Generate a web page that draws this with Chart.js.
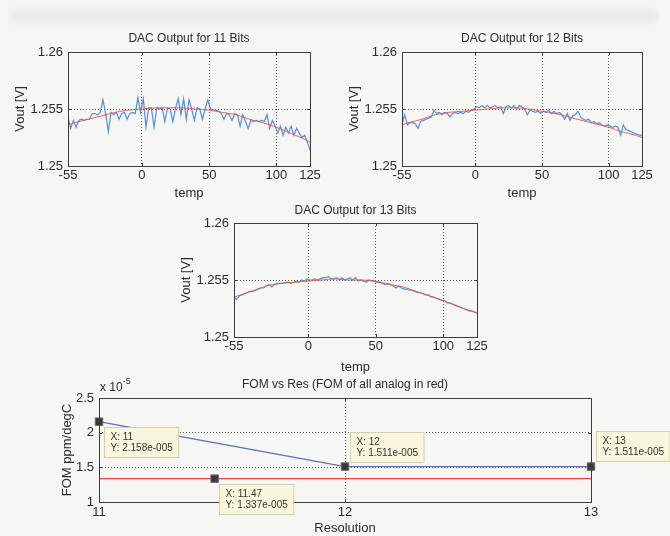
<!DOCTYPE html>
<html>
<head>
<meta charset="utf-8">
<title>DAC output vs temperature</title>
<script src="https://cdn.jsdelivr.net/npm/chart.js@4.4.1/dist/chart.umd.min.js"></script>
<style>
  html, body { margin: 0; padding: 0; }
  body {
    width: 670px; height: 536px; position: relative; overflow: hidden;
    background: #f6f6f4;
  }
  canvas { position: absolute; }
  /* faint show-through from the back of the scanned page */
  .bleed {
    position: absolute; left: 12px; top: 9px; width: 646px; height: 14px;
    background: rgba(0, 0, 0, 0.05); filter: blur(3px);
  }
</style>
</head>
<body>
<div class="bleed"></div>
<canvas id="dac11"></canvas>
<canvas id="dac12"></canvas>
<canvas id="dac13"></canvas>
<canvas id="fomChart"></canvas>

<script>
// ---- data ----
// temperature sweep, -55 .. 125 degC in 2 degree steps
const temps = Array.from({ length: 91 }, (_, i) => -55 + 2 * i);

// polynomial fit of the analog reference (red curves)
const fitTemps = [-55, -50, -40, -30, -20, -10, 0, 10, 20, 30, 40, 50, 60, 70, 80, 90, 100, 110, 120, 125];
const fit11 = [1.2536, 1.2538, 1.2541, 1.2544, 1.2547, 1.2549, 1.2550, 1.2551, 1.2551, 1.2551,
               1.2550, 1.2549, 1.2547, 1.2545, 1.2541, 1.2538, 1.2534, 1.2529, 1.2524, 1.2521];
const fit12 = [1.2536, 1.2538, 1.2541, 1.2545, 1.2547, 1.2548, 1.2549, 1.2550, 1.2551, 1.2551,
               1.2550, 1.2548, 1.2546, 1.2543, 1.2540, 1.2537, 1.2534, 1.2530, 1.2527, 1.2525];
const fit13 = [1.2535, 1.2537, 1.2541, 1.2545, 1.2547, 1.2548, 1.2549, 1.2550, 1.2551, 1.2550,
               1.2550, 1.2549, 1.2546, 1.2544, 1.2540, 1.2536, 1.2532, 1.2527, 1.2523, 1.2521];

// quantized DAC outputs (blue)
const vout11 = [
  1.2543, 1.2533, 1.2540, 1.2534, 1.2540, 1.2541, 1.2540, 1.2541, 1.2541, 1.2546,
  1.2546, 1.2545, 1.2547, 1.2558, 1.2546, 1.2530, 1.2547, 1.2545, 1.2547, 1.2541,
  1.2546, 1.2547, 1.2541, 1.2546, 1.2547, 1.2546, 1.2560, 1.2547, 1.2559, 1.2534,
  1.2551, 1.2551, 1.2534, 1.2551, 1.2550, 1.2551, 1.2539, 1.2551, 1.2550, 1.2539,
  1.2551, 1.2559, 1.2545, 1.2559, 1.2541, 1.2558, 1.2550, 1.2540, 1.2551, 1.2550,
  1.2541, 1.2550, 1.2558, 1.2550, 1.2549, 1.2549, 1.2548, 1.2546, 1.2541, 1.2546,
  1.2545, 1.2540, 1.2546, 1.2545, 1.2535, 1.2545, 1.2539, 1.2533, 1.2540, 1.2539,
  1.2540, 1.2539, 1.2540, 1.2539, 1.2545, 1.2533, 1.2540, 1.2535, 1.2529, 1.2535,
  1.2527, 1.2534, 1.2529, 1.2535, 1.2527, 1.2533, 1.2529, 1.2525, 1.2527, 1.2521,
  1.2514
];
const vout12 = [
  1.2536, 1.2545, 1.2536, 1.2538, 1.2538, 1.2537, 1.2533, 1.2539, 1.2540, 1.2541,
  1.2542, 1.2543, 1.2549, 1.2546, 1.2547, 1.2545, 1.2547, 1.2546, 1.2543, 1.2546,
  1.2547, 1.2546, 1.2547, 1.2546, 1.2548, 1.2547, 1.2549, 1.2550, 1.2552, 1.2551,
  1.2553, 1.2551, 1.2553, 1.2551, 1.2552, 1.2553, 1.2551, 1.2552, 1.2546, 1.2552,
  1.2553, 1.2551, 1.2553, 1.2550, 1.2553, 1.2552, 1.2550, 1.2545, 1.2549, 1.2548,
  1.2547, 1.2548, 1.2546, 1.2548, 1.2547, 1.2549, 1.2546, 1.2548, 1.2546, 1.2547,
  1.2545, 1.2541, 1.2546, 1.2540, 1.2544, 1.2545, 1.2548, 1.2543, 1.2541, 1.2540,
  1.2541, 1.2538, 1.2539, 1.2537, 1.2538, 1.2536, 1.2535, 1.2536, 1.2535, 1.2534,
  1.2535, 1.2534, 1.2527, 1.2536, 1.2532, 1.2531, 1.2530, 1.2529, 1.2528, 1.2527,
  1.2527
];
const vout13 = [
  1.2535, 1.2533, 1.2536, 1.2537, 1.2538, 1.2539, 1.2540, 1.2540, 1.2541, 1.2542,
  1.2543, 1.2543, 1.2545, 1.2546, 1.2544, 1.2546, 1.2547, 1.2547, 1.2547, 1.2548,
  1.2548, 1.2547, 1.2548, 1.2549, 1.2548, 1.2550, 1.2549, 1.2551, 1.2550, 1.2550,
  1.2551, 1.2550, 1.2551, 1.2552, 1.2552, 1.2553, 1.2551, 1.2551, 1.2552, 1.2550,
  1.2552, 1.2550, 1.2551, 1.2552, 1.2550, 1.2552, 1.2549, 1.2550, 1.2549, 1.2548,
  1.2550, 1.2549, 1.2549, 1.2548, 1.2548, 1.2547, 1.2546, 1.2547, 1.2546, 1.2545,
  1.2543, 1.2545, 1.2543, 1.2542, 1.2542, 1.2541, 1.2541, 1.2540, 1.2539, 1.2539,
  1.2538, 1.2537, 1.2537, 1.2535, 1.2535, 1.2534, 1.2533, 1.2532, 1.2532, 1.2530,
  1.2530, 1.2529, 1.2528, 1.2527, 1.2526, 1.2525, 1.2524, 1.2523, 1.2523, 1.2522,
  1.2521
];

const tempTicks = [-55, 0, 50, 100, 125];
const voutTicks = [1.25, 1.255, 1.26];
const voutTickLabels = ['1.25', '1.255', '1.26'];

// FOM vs resolution
const resolutions = [11, 12, 13];
const fomDigital = [2.158e-5, 1.511e-5, 1.511e-5];
const analogRes = [11, 13];
const fomAnalog = [1.337e-5, 1.337e-5];
const tipX = [11, 11.47, 12, 13];
const tipY = [2.158e-5, 1.337e-5, 1.511e-5, 1.511e-5];
const resTicks = [11, 12, 13];
const fomTicks = [1e-5, 1.5e-5, 2e-5, 2.5e-5];
const fomTickLabels = ['1', '1.5', '2', '2.5'];

// ---- styling helpers ----
const FONT = "'Liberation Sans', Arial, sans-serif";
const INK = '#2b2b2b';

function fixedTicks(values) {
  return function (scale) { scale.ticks = values.map(v => ({ value: v })); };
}

function points(xs, ys) {
  return xs.map((x, i) => ({ x: x, y: ys[i] }));
}

// MATLAB prints exponents with three digits, e.g. 2.158e-005
function matlabExp(v) {
  return v.toExponential(3).replace(/e([+-])(\d+)$/, (m, s, d) => 'e' + s + d.padStart(3, '0'));
}

// box, inward ticks, title and axis labels
function decorations(spec) {
  return {
    id: 'decorations',
    afterDatasetsDraw(chart) {
      const ctx = chart.ctx, a = chart.chartArea;
      const xs = chart.scales.x, ys = chart.scales.y;
      ctx.save();
      ctx.strokeStyle = '#3c3c3c';
      ctx.lineWidth = 1;
      ctx.strokeRect(Math.round(a.left) + 0.5, Math.round(a.top) + 0.5,
                     Math.round(a.right - a.left), Math.round(a.bottom - a.top));
      ctx.beginPath();
      xs.ticks.forEach(t => {
        const px = Math.round(xs.getPixelForValue(t.value)) + 0.5;
        ctx.moveTo(px, a.bottom); ctx.lineTo(px, a.bottom - 3);
        ctx.moveTo(px, a.top); ctx.lineTo(px, a.top + 3);
      });
      ys.ticks.forEach(t => {
        const py = Math.round(ys.getPixelForValue(t.value)) + 0.5;
        ctx.moveTo(a.left, py); ctx.lineTo(a.left + 3, py);
        ctx.moveTo(a.right, py); ctx.lineTo(a.right - 3, py);
      });
      ctx.stroke();

      const cx = (a.left + a.right) / 2, cy = (a.top + a.bottom) / 2;
      ctx.fillStyle = INK;
      ctx.textAlign = 'center';
      ctx.textBaseline = 'middle';
      ctx.font = '12px ' + FONT;
      ctx.fillText(spec.title, cx, a.top - spec.titleGap);
      ctx.font = '13px ' + FONT;
      ctx.fillText(spec.xLabel, cx, a.bottom + spec.xLabelGap);

      if (spec.exponent) {
        ctx.textAlign = 'left';
        ctx.font = '12px ' + FONT;
        const base = 'x 10';
        ctx.fillText(base, a.left + 1, a.top - 10);
        const w = ctx.measureText(base).width;
        ctx.font = '9px ' + FONT;
        ctx.fillText(spec.exponent, a.left + 1 + w, a.top - 16);
      }

      ctx.translate(a.left - spec.yLabelGap, cy);
      ctx.rotate(-Math.PI / 2);
      ctx.textAlign = 'center';
      ctx.font = '13px ' + FONT;
      ctx.fillText(spec.yLabel, 0, 0);
      ctx.restore();
    }
  };
}

function makePlot(id, box, spec) {
  const canvas = document.getElementById(id);
  const W = box.yAxisW + (box.r - box.l) + box.padR;
  const H = box.padT + (box.b - box.t) + box.xAxisH;
  canvas.width = W;
  canvas.height = H;
  canvas.style.left = (box.l - box.yAxisW) + 'px';
  canvas.style.top = (box.t - box.padT) + 'px';

  const tickFont = { family: FONT, size: 13 };
  return new Chart(canvas, {
    type: 'line',
    data: { datasets: spec.datasets },
    options: {
      responsive: false,
      animation: false,
      events: [],
      layout: { padding: { top: box.padT, right: box.padR, left: 0, bottom: 0 } },
      plugins: { legend: { display: false }, tooltip: { enabled: false } },
      scales: {
        x: {
          type: 'linear',
          min: spec.xMin, max: spec.xMax,
          afterBuildTicks: fixedTicks(spec.xTicks),
          afterFit: s => { s.height = box.xAxisH; },
          grid: { color: '#5a5a5a', lineWidth: 1, drawTicks: false },
          border: { display: false, dash: [1, 2] },
          ticks: { font: tickFont, color: INK, padding: box.xTickPad, maxRotation: 0, autoSkip: false,
                   callback: v => String(v) }
        },
        y: {
          type: 'linear',
          min: spec.yMin, max: spec.yMax,
          afterBuildTicks: fixedTicks(spec.yTicks),
          afterFit: s => { s.width = box.yAxisW; },
          grid: { color: '#5a5a5a', lineWidth: 1, drawTicks: false },
          border: { display: false, dash: [1, 2] },
          ticks: { font: tickFont, color: INK, padding: 5, autoSkip: false,
                   callback: (v, i) => spec.yTickLabels[i] }
        }
      }
    },
    plugins: [decorations(spec)].concat(spec.extraPlugins || [])
  });
}

function dacDatasets(fit, vout) {
  return [
    { label: 'fit', data: points(fitTemps, fit), borderColor: 'rgba(226, 88, 80, 0.9)', borderWidth: 1,
      pointRadius: 0, cubicInterpolationMode: 'monotone' },
    { label: 'DAC', data: points(temps, vout), borderColor: '#5b8fd2', borderWidth: 1.2,
      pointRadius: 0, tension: 0 }
  ];
}

function dacSpec(bits, fit, vout, titleGap, xLabelGap) {
  return {
    title: 'DAC Output for ' + bits + ' Bits',
    xLabel: 'temp', yLabel: 'Vout [V]',
    titleGap: titleGap, xLabelGap: xLabelGap, yLabelGap: 48,
    xMin: -55, xMax: 125, xTicks: tempTicks,
    yMin: 1.25, yMax: 1.26, yTicks: voutTicks, yTickLabels: voutTickLabels,
    datasets: dacDatasets(fit, vout)
  };
}

makePlot('dac11', { l: 68, t: 52, r: 310, b: 166, yAxisW: 68, padT: 30, padR: 15, xAxisH: 40, xTickPad: 2 },
  dacSpec(11, fit11, vout11, 13, 27));
makePlot('dac12', { l: 402, t: 52, r: 642, b: 166, yAxisW: 68, padT: 30, padR: 15, xAxisH: 40, xTickPad: 2 },
  dacSpec(12, fit12, vout12, 13, 27));
makePlot('dac13', { l: 234, t: 223, r: 477, b: 337, yAxisW: 68, padT: 30, padR: 15, xAxisH: 40, xTickPad: 2 },
  dacSpec(13, fit13, vout13, 12, 30));

// data tip boxes for the FOM plot
const tipOffsets = [[5, 5], [4, 5], [5, -35], [5, -36]];
const dataTips = {
  id: 'dataTips',
  afterDraw(chart) {
    const ctx = chart.ctx;
    const meta = chart.getDatasetMeta(0);
    ctx.save();
    ctx.font = '10px ' + FONT;
    ctx.textAlign = 'left';
    ctx.textBaseline = 'middle';
    meta.data.forEach((pt, i) => {
      const lines = ['X: ' + tipX[i], 'Y: ' + matlabExp(tipY[i])];
      const w = Math.max(...lines.map(l => ctx.measureText(l).width)) + 12;
      const h = 30;
      const x0 = Math.round(pt.x + tipOffsets[i][0]) + 0.5;
      const y0 = Math.round(pt.y + tipOffsets[i][1]) + 0.5;
      ctx.fillStyle = '#f8f6dc';
      ctx.strokeStyle = '#d2cfae';
      ctx.lineWidth = 1;
      ctx.fillRect(x0, y0, w, h);
      ctx.strokeRect(x0, y0, w, h);
      ctx.fillStyle = '#333';
      ctx.fillText(lines[0], x0 + 6, y0 + 10);
      ctx.fillText(lines[1], x0 + 6, y0 + 21);
    });
    ctx.restore();
  }
};

makePlot('fomChart', { l: 99, t: 398, r: 591, b: 502, yAxisW: 99, padT: 30, padR: 79, xAxisH: 34, xTickPad: 3 }, {
  title: 'FOM vs Res (FOM of all analog in red)',
  xLabel: 'Resolution', yLabel: 'FOM ppm/degC',
  titleGap: 13, xLabelGap: 26, yLabelGap: 32,
  exponent: '-5',
  xMin: 11, xMax: 13, xTicks: resTicks,
  yMin: 1e-5, yMax: 2.5e-5, yTicks: fomTicks, yTickLabels: fomTickLabels,
  datasets: [
    { label: 'data tips', data: points(tipX, tipY), showLine: false, pointStyle: 'rect',
      pointRadius: 5.3, pointBackgroundColor: '#3a3a3a', pointBorderColor: '#6a6a6a', pointBorderWidth: 1,
      clip: false },
    { label: 'FOM', data: points(resolutions, fomDigital), borderColor: '#5d72ae', borderWidth: 1.2,
      pointRadius: 0, tension: 0, clip: false },
    { label: 'FOM analog', data: points(analogRes, fomAnalog), borderColor: '#e04848', borderWidth: 1.1,
      pointRadius: 0, tension: 0, clip: false }
  ],
  extraPlugins: [dataTips]
});
</script>
</body>
</html>
